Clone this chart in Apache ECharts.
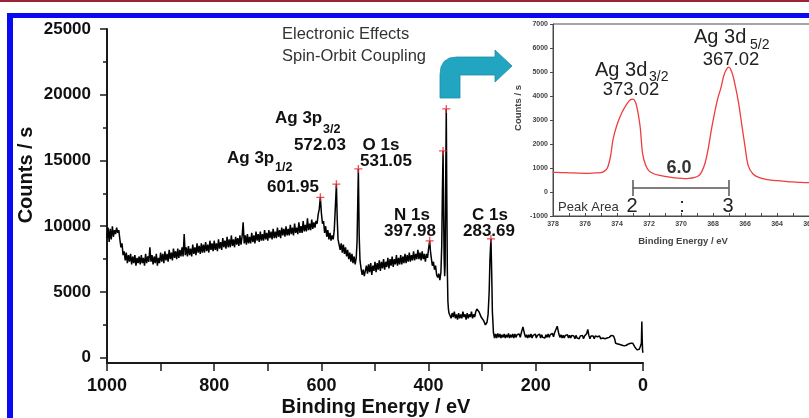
<!DOCTYPE html>
<html>
<head>
<meta charset="utf-8">
<script src="https://cdn.jsdelivr.net/npm/echarts@6/dist/echarts.min.js"></script>
<style>html,body{margin:0;padding:0;background:#fff}#c{width:809px;height:418px}</style>
</head>
<body>
<div id="c"></div>
<script>
// ---- Survey spectrum (binding energy eV, counts/s) ----
const surveyHigh = [[1000,9100],[998,9900],[996,8800],[994,9800],[992,9000],[990,10000],[988,9200],[986,9700],[984,9400],[982,9900],[980,9500],[978,9700],[976,9000],[974,8400],[972,8700],[970,7800],[968,8100],[966,7400],[964,8000],[962,7200],[960,7800],[958,7300],[956,7900],[954,7100],[952,7700],[950,7200],[948,7800],[946,7000],[944,7600],[942,7200],[940,7700],[938,7100],[936,7800],[934,7200],[932,7600],[930,7000],[928,7900],[926,7200],[924,7700],[922,7300],[920,8400],[918,7300],[916,7800],[914,7100],[912,7700],[910,7200],[908,7900],[906,7000],[904,7600],[902,7200],[900,8000],[898,7300],[896,7900],[894,7200],[892,8100],[890,7400],[888,7900],[886,7300],[884,8200],[882,7500],[880,8000],[878,7400],[876,8300],[874,7600],[872,8100],[870,7500],[868,8300],[866,7600],[864,8200],[862,7700],[860,8400],[858,7700],[856,9400],[854,7800],[852,8400],[850,7700],[848,8500],[846,7800],[844,8300],[842,7700],[840,8600],[838,7900],[836,8400],[834,7800],[832,8700],[830,8000],[828,8500],[826,7900],[824,8700],[822,8000],[820,8600],[818,8000],[816,8800],[814,8100],[812,8600],[810,8000],[808,8900],[806,8200],[804,8700],[802,8100],[800,8900],[798,8200],[796,8700],[794,8100],[792,9000],[790,8300],[788,8800],[786,8200],[784,9100],[782,8400],[780,8900],[778,8300],[776,9200],[774,8400],[772,9000],[770,8400],[768,9300],[766,8500],[764,9000],[762,8400],[760,9200],[758,8600],[756,9100],[754,8500],[752,9300],[750,8600],[748,9200],[746,10300],[744,8700],[742,9300],[740,8600],[738,9400],[736,8700],[734,9200],[732,8700],[730,9500],[728,8800],[726,9300],[724,8700],[722,9600],[720,8900],[718,9400],[716,8800],[714,9600],[712,8900],[710,9400],[708,8900],[706,9700],[704,9000],[702,9500],[700,8900],[698,9700],[696,9100],[694,9600],[692,9000],[690,9800],[688,9100],[686,9600],[684,9100],[682,9900],[680,9200],[678,9700],[676,9100],[674,9900],[672,9300],[670,9800],[668,9200],[666,10000],[664,9300],[662,9800],[660,9300],[658,10100],[656,9400],[654,9900],[652,9300],[650,10200],[648,9500],[646,9900],[644,9400],[642,10300],[640,9500],[638,10000],[636,9500],[634,10400],[632,9600],[630,10100],[628,9600],[626,10600],[624,9700],[622,10200],[620,9700],[618,10500],[616,9800],[614,10300],[612,9900],[610,10400]];
const surveyAg3p = [[608,10200],[606,10900],[604,11300],[601.95,12200],[600,11000],[598,10200],[596,10400],[594,9500],[592,10000],[590,9200],[588,9700],[586,9000],[584,9500],[582,8900],[580,9300],[578,9000],[576,9700],[574.5,11000],[572.03,13200],[570.5,10600],[569,9000],[567,8600],[565,8200],[563,8700],[561,8000],[559,8600],[557,7900],[555,8400],[553,7700],[551,8200],[549,7500],[547,8000],[545,7300],[543,7900],[541,7200],[539,7700],[537,7100],[535,7600],[533.5,8800],[531.05,14360],[529.5,9300],[528,7400],[526,6800],[524,6300],[522,6700],[520,6200]];
const surveyMid = [[518,6300],[516,7000],[514,6400],[512,7100],[510,6500],[508,7200],[506,6300],[504,7000],[502,6600],[500,7300],[498,6500],[496,7200],[494,6700],[492,7400],[490,6600],[488,7300],[486,6800],[484,7500],[482,6700],[480,7300],[478,6900],[476,7600],[474,6800],[472,7500],[470,7000],[468,7700],[466,6900],[464,7500],[462,7100],[460,7800],[458,7000],[456,7600],[454,7100],[452,7800],[450,7100],[448,7700],[446,7200],[444,7900],[442,7200],[440,7800],[438,7300],[436,8000],[434,7300],[432,7800],[430,7400],[428,8100],[426,7400],[424,7900],[422,7500],[420,8200],[418,7500],[416,8000],[414,7400],[412,8100],[410,7500],[408,7900],[406,7300],[404,7900],[402,7600],[400,8300],[399,8600],[397.98,8890],[396.5,8100],[395,7600],[393,7000],[391,7300],[389,6700],[387,7000],[385,6300],[383,6100],[381,6400],[379,5900],[378,6200]];
const surveyAg3d = [[377,6500],[375.5,8500],[374.3,12500],[373.02,15730],[372,11000],[371,7500],[370,6200],[369.2,7000],[368.3,12500],[367.02,18920],[366,12000],[365,6500],[364,4300],[363,3700],[362,3400]];
const surveyLow = [[360,3300],[358,3000],[356,3400],[354,3100],[352,3500],[350,3000],[348,3300],[346,2900],[344,3400],[342,3000],[340,3300],[338,3000],[336,3500],[334,3100],[332,3300],[330,2900],[328,3400],[326,3000],[324,3300],[322,3100],[320,3500],[318,3000],[316,3300],[314,3100],[312,3500],[310,3700],[308,3800],[306,3500],[304,3300],[302,3100],[300,3000],[297,2800],[294,2500],[291,2700],[289,3300],[287,5000],[285.5,7500],[283.69,9040],[282.3,6500],[281,3500],[279,1900],[277,1500],[275,1800],[273,1500],[271,1850],[269,1550],[267,1800],[265,1500],[263,1750],[261,1550],[259,1800],[257,1500],[255,1750],[253,1550],[251,1850],[249,1500],[247,1750],[245,1550],[243,1800],[241,1500],[239,1800],[237,1550],[235,1750],[233,1600],[231,1800],[229,1550],[227,1900],[224,2350],[221,1800],[219,1550],[217,1750],[215,1500],[213,1750],[211,1550],[209,1800],[207,1500],[205,1700],[203,1550],[201,1800],[199,1500],[197,1700],[195,1550],[193,1800],[191,1500],[189,1750],[187,1550],[185,1700],[183,1500],[181,1750],[179,1550],[177,1800],[175,1550],[173,1750],[171,1600],[169,1850],[167,1600],[165,1900],[163,1950],[160,2400],[157,1800],[155,1550],[153,1750],[151,1500],[149,1700],[147,1500],[145,1700],[143,1550],[141,1750],[139,1500],[137,1700],[135,1500],[133,1700],[131,1550],[129,1650],[127,1450],[125,1700],[123,1500],[121,1650],[119,1450],[117,1650],[115,1500],[113,1700],[111,1450],[109,1650],[107,1700],[105,1850],[103,2150],[101,1700],[99,1450],[97,1650],[95,1500],[93,1650],[91,1450],[89,1650],[87,1500],[85,1600],[83,1450],[81,1650],[79,1450],[77,1600],[75,1500],[73,1650],[71,1450],[69,1600],[67,1500],[65,1650],[63,1550],[61,1650],[59,1700],[57,1850],[55,1650],[53,1450],[51,1100],[49,950],[47,1050],[45,900],[43,1000],[41,850],[39,950],[37,800],[35,900],[33,850],[31,950],[29,900],[27,1050],[25,950],[23,1100],[21,1200],[19,1100],[17,950],[15,800],[13,700],[11,600],[9,700],[7,650],[5,850],[3,1100],[2.2,2750],[1.5,1400],[0.8,550],[0,380]];

// Peak markers (red +)
const peakMarks = [[601.95,12200],[572.03,13200],[531.05,14360],[397.98,8890],[373.02,15730],[367.02,18920],[283.69,9040]];

// ---- Ag 3d high-resolution inset ----
const insetData = [[378,820],[377.5,810],[377,800],[376.5,790],[376,780],[375.5,790],[375,810],[374.8,860],[374.6,1000],[374.4,1500],[374.25,2180],[374.0,2800],[373.7,3300],[373.4,3650],[373.2,3820],[373.02,3870],[372.85,3750],[372.7,3350],[372.55,2700],[372.4,1600],[372.2,1100],[372.0,880],[371.7,760],[371.4,700],[371.0,650],[370.6,610],[370.2,580],[369.8,560],[369.5,570],[369.2,600],[368.9,680],[368.7,850],[368.5,1200],[368.3,1800],[368.1,2600],[367.9,3300],[367.7,3900],[367.5,4350],[367.3,4900],[367.02,5200],[366.8,4950],[366.6,4400],[366.4,3700],[366.2,2800],[366.0,1900],[365.8,1100],[365.5,750],[365.1,600],[364.6,520],[364.0,470],[363.5,440],[363.0,420],[362.5,400],[362.0,390],[361.0,380],[360.0,370]];
const insetSplit = {from: 373.02, to: 367.02, level: 170, capTop: 500, capBottom: -170};

const yMajor = [0,5000,10000,15000,20000,25000];
const yMinor = [2500,7500,12500,17500,22500];

const survey = surveyHigh.concat(surveyAg3p, surveyMid, surveyAg3d, surveyLow);

const FONT = '"Liberation Sans", Arial, sans-serif';
function txt(s, x, y, o) {
  o = o || {};
  const size = o.size || 17, weight = o.weight || 'bold';
  const al = o.align || 'center';
  return {type:'text', x:x, y:y, rotation:o.rot||0, z:100,
    style:{text:s, font: weight + ' ' + size + 'px ' + FONT, fill:o.color||'#111',
      align:al, textAlign:al, verticalAlign:'middle', textVerticalAlign:'middle'}};
}
const plain = function(v){ return String(v); };

const chart = echarts.init(document.getElementById('c'), null, {renderer:'canvas'});
const axisCol = '#1a1a1a', insetCol = '#4a4a4a';
chart.setOption({
  animation:false,
  backgroundColor:'#fff',
  grid:[
    {left:107, top:29, width:536, height:334, outerBoundsMode:'none', containLabel:false},
    {left:553, top:24, width:288, height:192, outerBoundsMode:'none', containLabel:false,
     show:true, backgroundColor:'#fff', borderColor:insetCol, borderWidth:1}
  ],
  xAxis:[
    {gridIndex:0, type:'value', min:0, max:1000, interval:100, inverse:true,
     axisLine:{onZero:false, lineStyle:{color:axisCol, width:2}},
     axisTick:{length:8, lineStyle:{color:axisCol, width:1.5}},
     axisLabel:{margin:14, color:'#111', fontSize:18, fontWeight:'bold', fontFamily:FONT,
       formatter:function(v){return v % 200 === 0 ? String(v) : '';}},
     splitLine:{show:false}},
    {gridIndex:1, type:'value', min:360, max:378, interval:1, inverse:true,
     axisLine:{onZero:false, lineStyle:{color:insetCol, width:1}},
     axisTick:{inside:true, length:3, lineStyle:{color:insetCol}},
     axisLabel:{margin:5, color:'#444', fontSize:7, fontWeight:'bold', fontFamily:FONT,
       formatter:function(v){return v % 2 === 0 ? String(v) : '';}},
     splitLine:{show:false}}
  ],
  yAxis:[
    {gridIndex:0, type:'value', position:'left', min:-400, max:25000,
     axisLine:{show:true, onZero:false, lineStyle:{color:axisCol, width:2}},
     axisTick:{show:true, length:7, customValues:yMajor, lineStyle:{color:axisCol, width:1.5}},
     axisLabel:{margin:16, customValues:yMajor, formatter:plain, color:'#111', fontSize:17, fontWeight:'bold', fontFamily:FONT},
     splitLine:{show:false}},
    {gridIndex:1, type:'value', position:'left', min:-1000, max:7000, interval:1000,
     axisLine:{show:true, onZero:false, lineStyle:{color:insetCol, width:1}},
     axisTick:{show:true, length:3, lineStyle:{color:insetCol}},
     axisLabel:{margin:5, formatter:plain, color:'#444', fontSize:7, fontWeight:'bold', fontFamily:FONT},
     splitLine:{show:false}},
    {gridIndex:0, type:'value', position:'left', offset:0, min:-400, max:25000,
     axisLine:{show:false, onZero:false},
     axisTick:{show:true, length:4, customValues:yMinor, lineStyle:{color:axisCol, width:1.5}},
     axisLabel:{show:false},
     splitLine:{show:false}}
  ],
  series:[
    {type:'line', xAxisIndex:0, yAxisIndex:0, data:survey, showSymbol:false, symbol:'none',
     lineStyle:{color:'#000', width:1.5}, z:3},
    {type:'scatter', xAxisIndex:0, yAxisIndex:0, data:peakMarks,
     symbol:'path://M-1,-6H1V-1H6V1H1V6H-1V1H-6V-1H-1Z', symbolSize:8,
     itemStyle:{color:'#e8232b'}, z:4},
    {type:'line', xAxisIndex:1, yAxisIndex:1, data:insetData, showSymbol:false, symbol:'none', smooth:0.3,
     lineStyle:{color:'#f03c3c', width:1.3}, z:3,
     markLine:{symbol:'none', silent:true, animation:false, label:{show:false},
       lineStyle:{color:'#555', width:1.5, type:'solid'},
       data:[
         [{coord:[insetSplit.from, insetSplit.level]},{coord:[insetSplit.to, insetSplit.level]}],
         [{coord:[insetSplit.from, insetSplit.capTop]},{coord:[insetSplit.from, insetSplit.capBottom]}],
         [{coord:[insetSplit.to, insetSplit.capTop]},{coord:[insetSplit.to, insetSplit.capBottom]}]
       ]}}
  ],
  graphic:[
    {type:'rect', z:100, shape:{x:0,y:0,width:809,height:2}, style:{fill:'#9b2335'}},
    {type:'rect', z:100, shape:{x:7,y:13,width:802,height:5}, style:{fill:'#0a0af2'}},
    {type:'rect', z:100, shape:{x:7,y:13,width:6,height:405}, style:{fill:'#0a0af2'}},
    {type:'polygon', z:100, shape:{points:[[440,98],[440,75],[441,67],[444,61.5],[449.5,58],[457,57],[495,57],[495,50],[512,66],[495,82],[495,75],[460,75],[460,98]]},
     style:{fill:'#22a5c1', stroke:'#1a8ea8', lineWidth:0.8}},
    txt('Electronic Effects', 282, 34, {size:16.5, weight:'normal', color:'#333', align:'left'}),
    txt('Spin-Orbit Coupling', 282, 56, {size:16.5, weight:'normal', color:'#333', align:'left'}),
    txt('Ag 3p', 227, 158, {align:'left'}),
    txt('1/2', 275, 168, {size:12.5, align:'left'}),
    txt('601.95', 293, 187),
    txt('Ag 3p', 275, 118, {align:'left'}),
    txt('3/2', 323, 130, {size:12.5, align:'left'}),
    txt('572.03', 320, 145),
    txt('O 1s', 381, 145),
    txt('531.05', 386, 161),
    txt('N 1s', 412, 215),
    txt('397.98', 410, 231),
    txt('C 1s', 490, 215),
    txt('283.69', 489, 231),
    txt('Binding Energy / eV', 376, 407, {size:20}),
    txt('Counts / s', 26, 175, {size:20, rot:Math.PI/2}),
    txt('Ag 3d', 595, 70, {size:20, weight:'normal', color:'#222', align:'left'}),
    txt('3/2', 649, 77, {size:14, weight:'normal', color:'#222', align:'left'}),
    txt('373.02', 631, 90, {size:18.5, weight:'normal', color:'#222'}),
    txt('Ag 3d', 694, 37, {size:20, weight:'normal', color:'#222', align:'left'}),
    txt('5/2', 750, 45, {size:14, weight:'normal', color:'#222', align:'left'}),
    txt('367.02', 731, 60, {size:18.5, weight:'normal', color:'#222'}),
    txt('6.0', 679, 168, {size:18, color:'#333'}),
    txt('Peak Area', 558, 207, {size:13, weight:'normal', color:'#333', align:'left'}),
    txt('2', 632, 206, {size:20, weight:'normal', color:'#222'}),
    txt(':', 682, 206, {size:20, weight:'normal', color:'#222'}),
    txt('3', 728, 206, {size:20, weight:'normal', color:'#222'}),
    txt('Binding Energy / eV', 683, 241, {size:9.5, color:'#444'}),
    txt('Counts / s', 518, 108, {size:9.5, color:'#444', rot:Math.PI/2})
  ]
});
</script>
</body>
</html>
